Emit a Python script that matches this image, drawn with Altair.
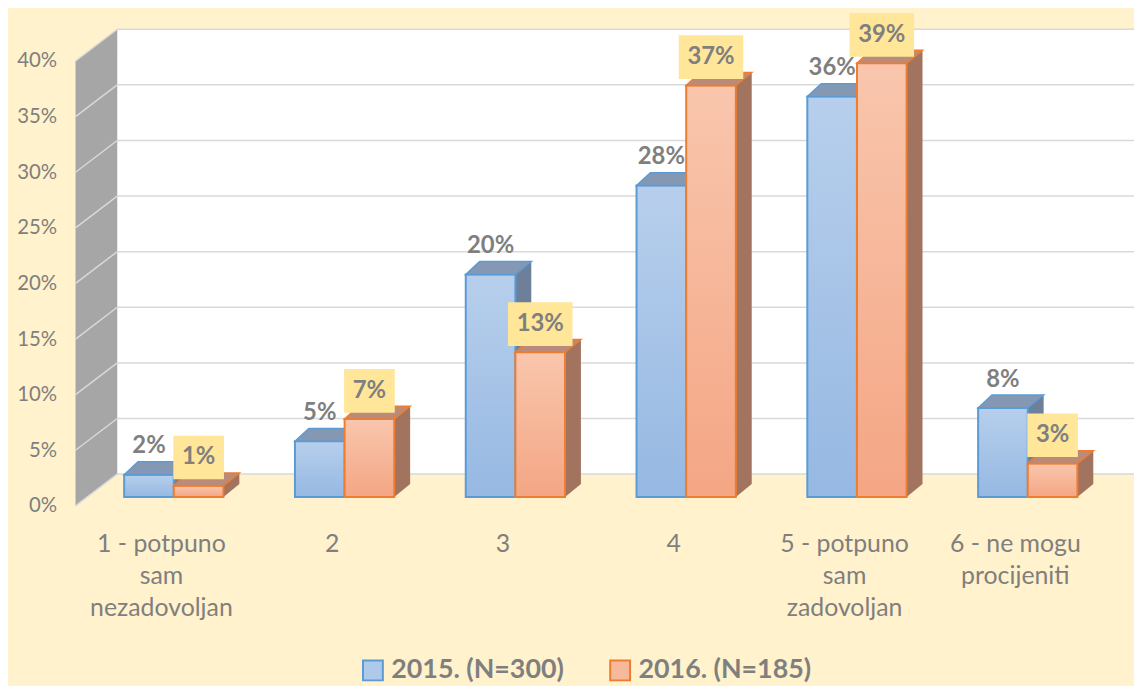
import json
import textwrap

import altair as alt
import pandas as pd

# ---------------- data ----------------
categories = [
    "1 - potpuno sam nezadovoljan",
    "2",
    "3",
    "4",
    "5 - potpuno sam zadovoljan",
    "6 - ne mogu procijeniti",
]
series = ["2015. (N=300)", "2016. (N=185)"]
values_2015 = [2, 5, 20, 28, 36, 8]
values_2016 = [1, 7, 13, 37, 39, 3]
y_ticks = [0, 5, 10, 15, 20, 25, 30, 35, 40]

rows = []
for si, (name, vals) in enumerate(zip(series, [values_2015, values_2016])):
    for ci, (cat, v) in enumerate(zip(categories, vals)):
        rows.append({"ci": ci, "category": cat, "series": name, "si": si, "value": v})
df = pd.DataFrame(rows)
tick_df = pd.DataFrame({"t": y_ticks})
one_df = pd.DataFrame({"d": [0]})

# ---------------- layout ----------------
STEP = 172
PLOT_W = STEP * len(categories)
PLOT_H = 448
BAR_PX = 50
BW = BAR_PX / STEP
DXL, DXR, DY = 14, 16, 13
BACK_DY = -23     # back wall vertical shift
FRONT_DY = 9      # front (axis) plane vertical shift
WALL_FRONT_X = -13
WALL_BACK_X = 29
LABEL_DY = -28.5

FONT = "Lato"
TEXT_COLOR = "#7F7F7F"
BG = "#FFF2CC"

xscale = alt.Scale(domain=[-0.5, len(categories) - 0.5], nice=False, zero=False)
yscale = alt.Scale(domain=[0, 40], nice=False, zero=True)

lines = [textwrap.wrap(c, 12) for c in categories]
label_expr = ""
for i, ln in enumerate(lines):
    label_expr += f"datum.value == {i} ? {json.dumps(ln)} : "
label_expr += "''"

x_axis = alt.Axis(
    values=list(range(len(categories))), labelExpr=label_expr, labelOffset=-13,
    labelPadding=35, labelBaseline="top", labelLineHeight=32, labelFont=FONT,
    labelFontSize=25, labelColor=TEXT_COLOR, domain=False, ticks=False, grid=False,
    title=None, labelAngle=0, labelAlign="center", labelOverlap=False,
    labelFlush=False, labelBound=False,
)
y_axis = alt.Axis(
    values=y_ticks, labelExpr="datum.value + '%'", labelOffset=FRONT_DY,
    labelPadding=32, labelFont=FONT, labelFontSize=20.5, labelColor=TEXT_COLOR,
    domain=False, ticks=False, grid=False, title=None,
)


def X(field):
    return alt.X(field, scale=xscale, axis=x_axis)


def Y(field):
    return alt.Y(field, scale=yscale, axis=y_axis)


def Y0(v):
    return alt.YDatum(v, scale=yscale, axis=y_axis)


base = alt.Chart(df).transform_calculate(
    xc=f"datum.ci + (datum.si - 0.5) * {BW}",
    xl=f"datum.ci + (datum.si - 1) * {BW}",
    xr=f"datum.ci + datum.si * {BW}",
    label="datum.value + '%'",
)

# axis-carrying (invisible) layer first
axis_layer = base.mark_rect(opacity=0).encode(
    x=X("xl:Q"), x2="xr:Q", y=Y("value:Q"), y2=alt.Y2Datum(0)
)

# ---------------- walls ----------------
left_wall_path = (
    f"M0,0 L0,{-PLOT_H} L{WALL_BACK_X - WALL_FRONT_X},{BACK_DY - FRONT_DY - PLOT_H} "
    f"L{WALL_BACK_X - WALL_FRONT_X},{BACK_DY - FRONT_DY} Z"
)
left_wall = alt.Chart(one_df).mark_point(
    shape=left_wall_path, size=4, filled=True, fill="#A6A6A6", opacity=1,
    strokeWidth=0, yOffset=FRONT_DY,
).encode(x=alt.value(WALL_FRONT_X), y=Y0(0))

back_wall = alt.Chart(one_df).mark_rect(
    fill="white", yOffset=BACK_DY, y2Offset=BACK_DY
).encode(
    x=alt.value(WALL_BACK_X), x2=alt.value(PLOT_W + 40),
    y=Y0(40), y2=alt.Y2Datum(0),
)

back_grid = alt.Chart(tick_df).mark_rule(
    color="#D9D9D9", strokeWidth=1.5, yOffset=BACK_DY
).encode(
    x=alt.value(WALL_BACK_X), x2=alt.value(PLOT_W + 40),
    y=Y("t:Q"),
)

side_grid = alt.Chart(tick_df).mark_rule(
    color="#D9D9D9", strokeWidth=1.5, yOffset=FRONT_DY, y2Offset=BACK_DY
).encode(
    x=alt.value(WALL_FRONT_X), x2=alt.value(WALL_BACK_X),
    y=Y("t:Q"), y2=alt.Y2("t:Q"),
)

# ---------------- bars ----------------
styles = [
    dict(stops=("#B7CFEC", "#96B8E2"), stroke="#5B9BD5", top="#8598B3", side="#6E7F9A"),
    dict(stops=("#F9C6AD", "#F4A684"), stroke="#ED7D31", top="#BA8B79", side="#A2735F"),
]

half = BAR_PX / 2
top_path = f"M{-half},0 L{half},0 L{half + DXR},{-DY} L{-half + DXL},{-DY} Z"
tri_path = f"M{half},0 L{half},{-DY} L{half + DXR},{-DY} Z"

bar_layers = []
for si, st in enumerate(styles):
    b = base.transform_filter(f"datum.si == {si}")
    grad = {
        "gradient": "linear", "x1": 0, "x2": 0, "y1": 0, "y2": 1,
        "stops": [{"offset": 0, "color": st["stops"][0]}, {"offset": 1, "color": st["stops"][1]}],
    }
    front = b.mark_rect(fill=grad, stroke=st["stroke"], strokeWidth=2).encode(
        x=X("xl:Q"), x2="xr:Q", y=Y("value:Q"), y2=alt.Y2Datum(0),
    )
    side = b.mark_rect(
        fill=st["side"], strokeWidth=0, x2Offset=DXR, yOffset=-DY, y2Offset=-DY
    ).encode(
        x=X("xr:Q"), x2="xr:Q", y=Y("value:Q"), y2=alt.Y2Datum(0),
    )
    tri = b.mark_point(
        shape=tri_path, size=4, filled=True, fill=st["side"], opacity=1, strokeWidth=0
    ).encode(x=X("xc:Q"), y=Y0(0))
    top = b.mark_point(
        shape=top_path, size=4, filled=True, fill=st["top"], stroke=st["stroke"],
        strokeWidth=1.5, opacity=1,
    ).encode(x=X("xc:Q"), y=Y("value:Q"))
    bar_layers += [side, tri, front, top]

# ---------------- labels ----------------
text_props = dict(font=FONT, fontWeight="bold", fontSize=24, color=TEXT_COLOR,
                  baseline="middle", align="center", yOffset=LABEL_DY)
label_2015 = base.transform_filter("datum.si == 0").mark_text(**text_props).encode(
    x=X("xc:Q"), y=Y("value:Q"), text="label:N",
)
box_small = "M-25.5,-22 L25.5,-22 L25.5,22 L-25.5,22 Z"
box_big = "M-32.5,-22 L32.5,-22 L32.5,22 L-32.5,22 Z"
box_2016 = base.transform_filter("datum.si == 1").mark_point(
    size=4, filled=True, fill="#FFE699", opacity=1, strokeWidth=0, yOffset=LABEL_DY
).encode(
    x=X("xc:Q"), y=Y("value:Q"),
    shape=alt.when("datum.value < 10").then(alt.value(box_small)).otherwise(alt.value(box_big)),
)
label_2016 = base.transform_filter("datum.si == 1").mark_text(**text_props).encode(
    x=X("xc:Q"), y=Y("value:Q"), text="label:N",
)

# ---------------- legend ----------------
legend = alt.Legend(
    title=None, orient="none", legendX=273, legendY=609, direction="horizontal",
    symbolType="square", symbolSize=400, symbolStrokeWidth=2, symbolOpacity=1,
    labelFont=FONT, labelFontSize=27, labelFontWeight="bold", labelColor=TEXT_COLOR,
    labelOffset=5, columnPadding=42, padding=0, labelLimit=400,
)
legend_layer = base.mark_square(opacity=0).encode(
    x=X("xc:Q"), y=Y("value:Q"),
    fill=alt.Fill("series:N", scale=alt.Scale(domain=series, range=["#AFC9EA", "#F6B99C"]), legend=legend),
    stroke=alt.Stroke("series:N", scale=alt.Scale(domain=series, range=["#5B9BD5", "#ED7D31"]), legend=legend),
)

chart = alt.layer(
    axis_layer, back_wall, back_grid, left_wall, side_grid, *bar_layers,
    label_2015, box_2016, label_2016, legend_layer,
).properties(
    width=PLOT_W, height=PLOT_H,
    padding={"left": 81, "top": 42, "right": 1134 - 81 - PLOT_W, "bottom": 678 - 42 - PLOT_H},
    autosize=alt.AutoSizeParams(type="none"),
    background=BG,
).configure_view(stroke=None)

chart.save("out.html", embed_options={"renderer": "svg", "actions": False})
